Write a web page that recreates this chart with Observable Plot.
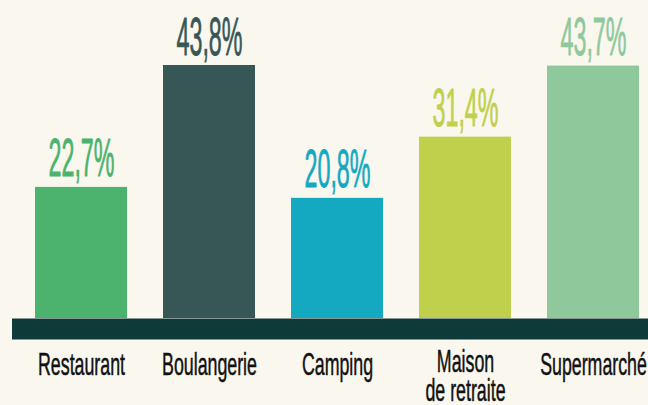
<!DOCTYPE html>
<html><head><meta charset="utf-8">
<script src="https://cdn.jsdelivr.net/npm/d3@7"></script>
<script src="https://cdn.jsdelivr.net/npm/@observablehq/plot@0.6"></script>
<style>
html,body{margin:0;padding:0;background:#faf7ef;}
svg{display:block}
</style></head><body><div id="chart"></div>
<script>
const categories = ["Restaurant","Boulangerie","Camping","Maison\nde retraite","Supermarché"];
const values = [22.7,43.8,20.8,31.4,43.7];
const valueLabels = ["22,7%","43,8%","20,8%","31,4%","43,7%"];
const colors = ["#4bb36d","#375757","#14a9c0","#c0d04d","#8fc99b"];
const data = categories.map((c,i)=>({category:c, value:values[i], label:valueLabels[i]}));

const labelOpts = {x:"category", y:()=>0, text:"category", fill:"#111", stroke:"#111", strokeWidth:0.5, fontSize:32, lineAnchor:"top", lineHeight:0.93, fontFamily:"Liberation Sans"};
const chart = Plot.plot({
  width:648, height:405, margin:0,
  style:{background:"#faf7ef", overflow:"visible"},
  x:{type:"band", domain:categories, range:[33,641], paddingInner:0.278, paddingOuter:0, axis:null},
  y:{domain:[0,43.8], range:[318,65], axis:null},
  color:{domain:categories, range:colors},
  marks:[
    Plot.barY(data,{x:"category", y:"value", fill:"category"}),
    Plot.ruleY([0],{stroke:"#0f3a3a", strokeWidth:21, dy:10.5, insetLeft:12}),
    Plot.text(data,{x:"category", y:"value", text:"label", fill:"category", stroke:"category", strokeWidth:0.8, fontSize:53, lineAnchor:"bottom", dy:-11, fontFamily:"Liberation Sans"}),
    Plot.text(data.filter(d=>!d.category.includes("\n")),{...labelOpts, dy:35}),
    Plot.text(data.filter(d=>d.category.includes("\n")),{...labelOpts, dy:32})
  ]
});
const groups = chart.querySelectorAll('g[aria-label="text"]');
const scales=[0.44,0.556,0.556];
groups.forEach((g,gi)=>{ g.querySelectorAll(":scope > text").forEach(t=>{
  const x=t.getAttribute("x");
  let tr=t.getAttribute("transform")||"";
  if(x!=null && !/em$/.test(x)){ tr += ` translate(${x},0)`; t.removeAttribute("x"); }
  t.setAttribute("transform", tr+` scale(${scales[gi]},1)`);
});});
document.getElementById("chart").appendChild(chart);
</script></body></html>
